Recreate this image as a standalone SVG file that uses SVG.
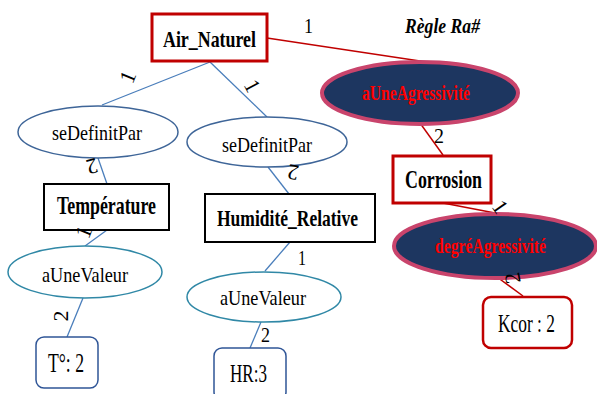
<svg xmlns="http://www.w3.org/2000/svg" width="597" height="394" viewBox="0 0 597 394" font-family="'Liberation Serif', 'DejaVu Serif', 'Noto Serif', serif">
<style>
text{font-family:"Liberation Serif","DejaVu Serif","Noto Serif",serif;fill:#000}
.b{font-weight:bold}
.lbl{font-size:22px}
.red{fill:#ff0000;font-weight:bold}
.rbox{fill:#fff;stroke:#c00000;stroke-width:3}
.kbox{fill:#fff;stroke:#c00000;stroke-width:2.5}
.bbox{fill:#fff;stroke:#000;stroke-width:2}
.dark{fill:#1d3660;stroke:#c9446c;stroke-width:4}
.blue{fill:#fff;stroke:#3e6598;stroke-width:1.5}
.teal{fill:#fff;stroke:#3088a6;stroke-width:1.5}
.vbox{fill:#fff;stroke:#2f5597;stroke-width:1.5}
.lb{stroke:#4a7ebb;stroke-width:1.3;fill:none}
.lr{stroke:#c00000;stroke-width:1.5;fill:none}
</style>
<rect width="597" height="394" fill="#fff"/>
<g id="connectors">
<line class="lr" x1="267" y1="38" x2="420" y2="61"/>
<line class="lr" x1="420" y1="123" x2="443" y2="155"/>
<line class="lr" x1="443" y1="203" x2="495" y2="213"/>
<line class="lr" x1="497" y1="277" x2="523" y2="296"/>
<line class="lb" x1="210" y1="62" x2="102" y2="105"/>
<line class="lb" x1="210" y1="62" x2="267" y2="117"/>
<line class="lb" x1="98" y1="158" x2="107" y2="184"/>
<line class="lb" x1="268" y1="167" x2="289" y2="194"/>
<line class="lb" x1="107" y1="230" x2="85" y2="246"/>
<line class="lb" x1="83" y1="298" x2="67" y2="337"/>
<line class="lb" x1="290" y1="242" x2="265" y2="271"/>
<line class="lb" x1="261" y1="322" x2="250" y2="348"/>
</g>
<g id="regle">
<text x="405" y="33" class="b" font-style="italic" font-size="22" textLength="75" lengthAdjust="spacingAndGlyphs">Règle Ra#</text>
</g>
<g id="air_naturel">
<rect class="rbox" x="152" y="14" width="115" height="47"/>
<text x="163" y="47" class="b" font-size="23" textLength="93" lengthAdjust="spacingAndGlyphs">Air_Naturel</text>
</g>
<g id="aUneAgressivite">
<ellipse class="dark" cx="420" cy="93" rx="98" ry="31"/>
<text x="362" y="100" class="red" font-size="20" textLength="108" lengthAdjust="spacingAndGlyphs">aUneAgressivité</text>
</g>
<g id="corrosion">
<rect class="rbox" x="393" y="156" width="98" height="47"/>
<text x="405" y="188" class="b" font-size="26" textLength="77" lengthAdjust="spacingAndGlyphs">Corrosion</text>
</g>
<g id="degreAgressivite">
<ellipse class="dark" cx="495" cy="246" rx="101" ry="32"/>
<text x="435" y="253" class="red" font-size="22" textLength="111" lengthAdjust="spacingAndGlyphs">degréAgressivité</text>
</g>
<g id="kcor">
<rect class="kbox" x="483" y="297" width="89" height="51" rx="8"/>
<text x="498" y="332" font-size="25" textLength="57" lengthAdjust="spacingAndGlyphs">Kcor : 2</text>
</g>
<g id="seDefinitPar1">
<ellipse class="blue" cx="98" cy="132" rx="80" ry="26"/>
<text x="52" y="140" font-size="21" textLength="90" lengthAdjust="spacingAndGlyphs">seDefinitPar</text>
</g>
<g id="seDefinitPar2">
<ellipse class="blue" cx="267" cy="142" rx="80" ry="25"/>
<text x="222" y="152" font-size="21" textLength="90" lengthAdjust="spacingAndGlyphs">seDefinitPar</text>
</g>
<g id="temperature">
<rect class="bbox" x="44" y="184" width="125" height="46"/>
<text x="57" y="214" class="b" font-size="26" textLength="99" lengthAdjust="spacingAndGlyphs">Température</text>
</g>
<g id="humidite">
<rect class="bbox" x="205" y="194" width="170" height="48"/>
<text x="217" y="226" class="b" font-size="24" textLength="141" lengthAdjust="spacingAndGlyphs">Humidité_Relative</text>
</g>
<g id="aUneValeur1">
<ellipse class="teal" cx="85" cy="272" rx="77" ry="26"/>
<text x="42" y="282" font-size="22" textLength="86" lengthAdjust="spacingAndGlyphs">aUneValeur</text>
</g>
<g id="aUneValeur2">
<ellipse class="teal" cx="264" cy="297" rx="77" ry="25"/>
<text x="220" y="305" font-size="22" textLength="86" lengthAdjust="spacingAndGlyphs">aUneValeur</text>
</g>
<g id="temp_val">
<rect class="vbox" x="36" y="337" width="62" height="51" rx="8"/>
<text x="48" y="372" font-size="27" textLength="36" lengthAdjust="spacingAndGlyphs">T°: 2</text>
</g>
<g id="hr_val">
<rect class="vbox" x="214" y="348" width="72" height="52" rx="8"/>
<text x="230" y="382" font-size="25" textLength="37" lengthAdjust="spacingAndGlyphs">HR:3</text>
</g>
<g id="connector-labels">
<text class="lbl" x="304" y="33" textLength="9" lengthAdjust="spacingAndGlyphs">1</text>
<text class="lbl" x="434" y="143" textLength="10" lengthAdjust="spacingAndGlyphs">2</text>
<text class="lbl" x="298" y="265" textLength="8" lengthAdjust="spacingAndGlyphs">1</text>
<text class="lbl" x="261" y="342" textLength="9" lengthAdjust="spacingAndGlyphs">2</text>
<text class="lbl" transform="translate(128,77) rotate(-68)" text-anchor="middle" dy="7">1</text>
<text class="lbl" transform="translate(252,86) rotate(62)" text-anchor="middle" dy="7">1</text>
<text class="lbl" transform="translate(92,166) rotate(165)" text-anchor="middle" dy="7">2</text>
<text class="lbl" transform="translate(293,172) rotate(190)" text-anchor="middle" dy="7">2</text>
<text class="lbl" transform="translate(84,232) rotate(-68)" text-anchor="middle" dy="7">1</text>
<text class="lbl" transform="translate(61,316) rotate(-90)" text-anchor="middle" dy="7">2</text>
<text class="lbl" transform="translate(500,207) rotate(55)" text-anchor="middle" dy="7">1</text>
<text class="lbl" transform="translate(513,278) rotate(-100)" text-anchor="middle" dy="7">2</text>
</g>
</svg>
